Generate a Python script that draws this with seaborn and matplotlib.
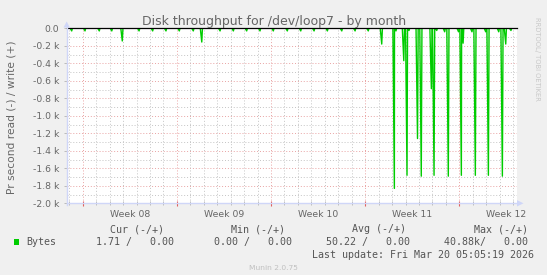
import numpy as np
import pandas as pd
import matplotlib
matplotlib.use("Agg")
import matplotlib.pyplot as plt
import seaborn as sns
from matplotlib.patches import Polygon, Rectangle
from matplotlib.lines import Line2D

# ---------------- data ----------------
title = "Disk throughput for /dev/loop7 - by month"
ylabel = "Pr second read (-) / write (+)"
week_labels = ["Week 08", "Week 09", "Week 10", "Week 11", "Week 12"]
week_starts = [0, 7, 14, 21, 28]          # days since Mon 16 Feb 2026 00:00
x_start, x_end = -1.17, 32.25             # visible time window (days)
y_tick_values = [0, -200, -400, -600, -800, -1000, -1200, -1400, -1600, -1800, -2000]
y_tick_labels = ["0.0", "-0.2 k", "-0.4 k", "-0.6 k", "-0.8 k", "-1.0 k",
                 "-1.2 k", "-1.4 k", "-1.6 k", "-1.8 k", "-2.0 k"]

# read bytes per second (plotted negative), sampled where the line dips
spike_days = [-0.82, 0.17, 1.23, 2.16, 2.94, 4.19, 5.20, 6.19, 7.18, 8.22,
              8.85, 10.21, 11.20, 12.19, 13.18, 14.17, 15.21, 16.21, 17.20, 18.19,
              19.26, 20.25, 21.23, 22.23, 23.17, 23.29, 23.87, 24.11, 24.26, 24.89,
              25.17, 25.92, 26.12, 26.32, 26.91, 27.18, 27.94, 28.15, 28.28, 28.94,
              29.19, 29.96, 30.16, 30.93, 31.20, 31.45, 31.84]
spike_values = [-30, -30, -30, -30, -145, -30, -30, -30, -30, -30,
                -157, -30, -30, -30, -30, -30, -30, -30, -30, -30,
                -30, -30, -30, -180, -1830, -30, -370, -1680, -25, -1260,
                -1690, -690, -1680, -25, -40, -1690, -40, -1680, -170, -40,
                -1680, -40, -1680, -40, -1690, -180, -25]

legend_name = "Bytes"
legend_headers = ["Cur (-/+)", "Min (-/+)", "Avg (-/+)", "Max (-/+)"]
legend_values = ["1.71 /   0.00", "0.00 /   0.00", "50.22 /   0.00", "40.88k/   0.00"]
last_update = "Last update: Fri Mar 20 05:05:19 2026"
footer = "Munin 2.0.75"
side_text = "RRDTOOL/ TOBI OETIKER"

# ---------------- style ----------------
W, H = 547, 275
BG = "#F0F0F0"
FONT_C = "#666666"
AXIS_C = "#CFD6F8"
GREEN = "#00CC00"
GRID_C = "#C4C4C4"
MGRID_C = "#E9A3A3"
plt.rcParams["font.family"] = ["DejaVu Sans"]

def fx(px):
    return px / W

def fy(py):
    return 1 - py / H

fig = plt.figure(figsize=(W / 100, H / 100), dpi=100, facecolor=BG)
L, R, T, B = 67, 516.5, 28.3, 203.3
ax = fig.add_axes([fx(L), fy(B), (R - L) / W, (B - T) / H])
ax.set_facecolor("white")
for s in ax.spines.values():
    s.set_visible(False)

# line path built from the spike samples
pts = [(x_start, 0.0), (31.95, 0.0)]
for t, v in zip(spike_days, spike_values):
    pts += [(t - 0.11, 0.0), (t, v), (t + 0.05, 0.0)]
pts.sort(key=lambda p: p[0])
df = pd.DataFrame(pts, columns=["day", "bytes"])

# grid
dot = (0, (1, 2))
for yv in range(-100, -2000, -200):
    ax.axhline(yv, color=GRID_C, lw=0.7, ls=dot, zorder=0)
for yv in y_tick_values[1:-1]:
    ax.axhline(yv, color=MGRID_C, lw=0.7, ls=dot, zorder=0)
days = list(range(-1, 33))
for d in days:
    if d in week_starts:
        continue
    ax.axvline(d, color=GRID_C, lw=0.7, ls=dot, zorder=0)
for d in week_starts:
    ax.axvline(d, color=MGRID_C, lw=0.7, ls=dot, zorder=0)

sns.lineplot(data=df, x="day", y="bytes", sort=False, estimator=None,
             color=GREEN, lw=1.0, ax=ax, zorder=3)
ax.axhline(0, color="black", lw=0.9, zorder=4, clip_on=False)

ax.set_xlim(x_start, x_end)
ax.set_ylim(-2000, 0)
ax.set_xlabel("")
ax.set_ylabel("")

ax.set_yticks(y_tick_values)
ax.set_yticklabels(y_tick_labels)
ax.tick_params(axis="y", length=2, width=0.7, color="#BBBBBB", pad=3.5,
               labelsize=6.7, labelcolor=FONT_C)
mid = [w + 3.5 for w in week_starts]
ax.set_xticks(mid)
ax.set_xticklabels(week_labels)
ax.tick_params(axis="x", length=0, pad=4.6, labelsize=6.7, labelcolor=FONT_C)

# x tick marks across the axis line
other = [d for d in days if d not in week_starts]
ax.vlines(other, -2022, -1978, color="#BBBBBB", lw=0.7, clip_on=False, zorder=5)
ax.vlines(week_starts, -2030, -1970, color="#E06060", lw=0.8, clip_on=False, zorder=5)

# axis lines and arrows
fig.add_artist(Line2D([fx(L), fx(518)], [fy(B), fy(B)], color=AXIS_C, lw=1.0))
fig.add_artist(Line2D([fx(L - 0.3), fx(L - 0.3)], [fy(B + 2), fy(27)], color=AXIS_C, lw=1.0))
fig.add_artist(Polygon([[fx(523.5), fy(B)], [fx(517), fy(B - 3.2)], [fx(517), fy(B + 3.2)]],
                       closed=True, color=AXIS_C, lw=0))
fig.add_artist(Polygon([[fx(L - 0.3), fy(21.5)], [fx(L - 3.5), fy(27.5)], [fx(L + 2.9), fy(27.5)]],
                       closed=True, color=AXIS_C, lw=0))

# texts
fig.text(fx(274), fy(24.5), title, ha="center", va="baseline", fontsize=9.0, color=FONT_C)
fig.text(fx(11.7), fy(117.5), ylabel, ha="center", va="center", rotation=90,
         fontsize=7.7, color=FONT_C)
fig.text(fx(537.5), fy(58.6), side_text, ha="center", va="center", rotation=270,
         fontsize=4.9, color="#C8C8C8")

mono = "DejaVu Sans Mono"
LEG_C = "#555555"
hdr_right = [164.5, 285, 406, 528.5]
for txt, xr in zip(legend_headers, hdr_right):
    fig.text(fx(xr), fy(232), txt, ha="right", va="baseline", family=mono,
             fontsize=7.2, color=LEG_C)
fig.add_artist(Rectangle((fx(14), fy(244.8)), 5.3 / W, 5.6 / H, color=GREEN, lw=0))
fig.text(fx(26), fy(245.3), legend_name, ha="left", va="baseline", family=mono,
         fontsize=7.2, color=LEG_C)
val_right = [174, 292, 410, 528.5]
for txt, xr in zip(legend_values, val_right):
    fig.text(fx(xr), fy(245.3), txt, ha="right", va="baseline", family=mono,
             fontsize=7.2, color=LEG_C)
fig.text(fx(534), fy(257.8), last_update, ha="right", va="baseline", family=mono,
         fontsize=7.2, color=LEG_C)
fig.text(fx(273.5), fy(270), footer, ha="center", va="baseline", fontsize=5.4,
         color="#C0C0C0")

fig.savefig("out.png", dpi=100, facecolor=BG)
